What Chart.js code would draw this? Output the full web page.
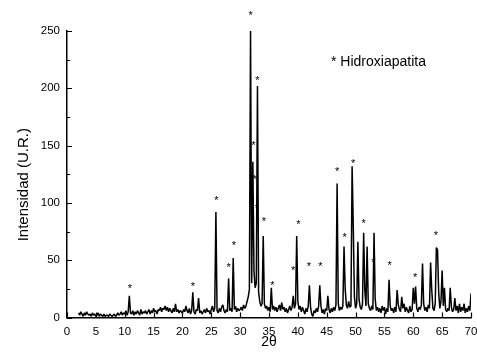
<!DOCTYPE html>
<html>
<head>
<meta charset="utf-8">
<script src="https://cdn.jsdelivr.net/npm/chart.js@4/dist/chart.umd.min.js"></script>
<style>
  html, body { margin: 0; padding: 0; background: #fff; }
  #wrap { width: 477px; height: 356px; }
</style>
</head>
<body>
<div id="wrap"><canvas id="c" width="477" height="356"></canvas></div>
<script>
// ---- data (2θ from 2.0 to 70.0 in steps of 0.2) ----
const startAngle = 2.0;
const angleStep = 0.2;
const intensity = [
  4,2,5,3,1,4,2,5,3,2,        // 2.0 - 3.8
  3,1,4,2,3,1,2,4,1,3,        // 4.0 - 5.8
  2,1,3,1,2,2,1,3,2,1,        // 6.0 - 7.8
  2,3,1,2,4,2,3,5,2,4,        // 8.0 - 9.8
  3,6,2,5,19,4,3,6,2,5,       // 10.0 - 11.8
  3,6,4,2,7,3,5,4,6,3,        // 12.0 - 13.8
  5,7,3,6,4,8,5,6,3,7,        // 14.0 - 15.8
  6,9,5,8,7,10,6,9,5,8,       // 16.0 - 17.8
  6,4,8,5,12,5,7,4,6,5,       // 18.0 - 19.8
  4,7,5,10,6,4,8,3,6,22,      // 20.0 - 21.8
  5,3,7,6,17,4,6,3,5,7,       // 22.0 - 23.8
  4,8,5,6,3,7,10,5,8,92,      // 24.0 - 25.8
  6,4,8,5,9,11,6,4,7,5,       // 26.0 - 27.8
  34,6,8,5,52,7,10,5,8,6,     // 28.0 - 29.8
  7,9,6,11,8,10,14,18,24,250, // 30.0 - 31.8
  30,136,40,26,30,202,22,14,10,12, // 32.0 - 33.8
  71,12,8,10,6,9,5,26,7,10,   // 34.0 - 35.8
  6,9,5,8,11,6,13,7,9,5,      // 36.0 - 37.8
  8,4,7,10,6,9,19,8,12,71,    // 38.0 - 39.8
  14,7,10,5,9,6,3,8,5,10,     // 40.0 - 41.8
  28,9,3,1,6,4,8,5,10,28,     // 42.0 - 43.8
  10,4,7,3,8,6,19,7,4,8,      // 44.0 - 45.8
  5,9,6,11,117,12,6,9,7,10,   // 46.0 - 47.8
  62,25,11,8,14,9,10,132,80,18, // 48.0 - 49.8
  8,12,66,16,9,7,12,74,24,10, // 50.0 - 51.8
  62,12,8,6,10,7,74,16,6,9,   // 52.0 - 53.8
  5,8,4,10,6,9,3,8,5,33,      // 54.0 - 55.8
  10,6,8,4,9,5,24,11,7,5,     // 56.0 - 57.8
  18,8,12,5,9,6,4,10,5,7,     // 58.0 - 59.8
  26,12,27,8,5,9,7,11,47,12,  // 60.0 - 61.8
  6,9,5,11,8,48,24,8,6,12,    // 62.0 - 63.8
  61,59,22,8,14,41,10,26,7,5, // 64.0 - 65.8
  8,6,26,9,5,7,17,6,10,4,     // 66.0 - 67.8
  12,5,9,6,12,4,8,5,10,6,     // 68.0 - 69.8
  21                          // 70.0
];

// asterisk annotations (2θ, intensity)
const starAngles  = [10.9, 21.8, 25.9, 28.0, 28.9, 31.8, 32.3, 32.5, 32.9, 33.0, 34.1, 35.6, 39.2, 40.1, 41.9, 43.9, 46.8, 48.1, 49.6, 51.4, 53.1, 55.9, 60.3, 63.9];
const starHeights = [27.5, 29,   104,  46,   65,   266,  152,  123,  97,   209,  85.7, 30,   43.5, 83,   46.6, 46.6, 129.6, 72,  136.6, 84.5, 50,  47.3, 37,   73.5];

const xTickStep = 5;
const yTickStep = 50;
const yMinorTicks = [25, 75, 125, 175, 225];
const legendText = '* Hidroxiapatita';

const points = intensity.map((v, i) => ({ x: startAngle + i * angleStep, y: v }));

const annot = {
  id: 'annot',
  afterDraw(chart) {
    const { ctx, scales: { x, y } } = chart;
    ctx.save();
    ctx.strokeStyle = '#000';
    ctx.lineWidth = 1.2;
    ctx.beginPath();
    y.ticks.forEach(t => {
      const py = Math.round(y.getPixelForValue(t.value)) + 0.5;
      ctx.moveTo(x.left, py); ctx.lineTo(x.left + 5, py);
    });
    yMinorTicks.forEach(v => {
      const py = Math.round(y.getPixelForValue(v)) + 0.5;
      ctx.moveTo(x.left, py); ctx.lineTo(x.left + 3, py);
    });
    x.ticks.forEach(t => {
      const px = Math.round(x.getPixelForValue(t.value)) + 0.5;
      ctx.moveTo(px, y.bottom); ctx.lineTo(px, y.bottom - 5);
    });
    ctx.stroke();

    ctx.fillStyle = '#000';
    ctx.font = '11px "Liberation Sans", Arial, sans-serif';
    ctx.textAlign = 'center';
    ctx.textBaseline = 'alphabetic';
    starAngles.forEach((a, i) => {
      const px = x.getPixelForValue(a);
      const py = y.getPixelForValue(starHeights[i]);
      ctx.fillText('*', px, py + 6);
    });

    ctx.font = '14px "Liberation Sans", Arial, sans-serif';
    ctx.textAlign = 'left';
    ctx.fillText(legendText, 331, 66);
    ctx.restore();
  }
};

new Chart(document.getElementById('c'), {
  type: 'line',
  data: {
    datasets: [{
      data: points,
      borderColor: '#000',
      borderWidth: 1.5,
      borderJoinStyle: 'bevel',
      pointRadius: 0,
      tension: 0,
      fill: false
    }]
  },
  options: {
    responsive: false,
    animation: false,
    events: [],
    layout: { padding: { left: 0, top: 31, right: 6, bottom: 0 } },
    plugins: { legend: { display: false }, tooltip: { enabled: false } },
    scales: {
      x: {
        type: 'linear',
        min: 0, max: 70,
        afterFit: s => { s.height = 38.5; s.paddingLeft = 0; s.paddingRight = 0; },
        ticks: { stepSize: xTickStep, padding: 7.5, color: '#000',
                 font: { family: '"Liberation Sans", Arial, sans-serif', size: 11.5 } },
        grid: { display: false, drawTicks: false },
        border: { display: true, color: '#000', width: 1.5 },
        title: { display: true, text: '2θ', color: '#000', padding: { top: 0, bottom: 5 },
                 font: { family: '"Liberation Sans", Arial, sans-serif', size: 14 } }
      },
      y: {
        min: 0, max: 250,
        afterFit: s => { s.width = 67; },
        ticks: { stepSize: yTickStep, padding: 7, color: '#000',
                 font: { family: '"Liberation Sans", Arial, sans-serif', size: 11.5 } },
        grid: { display: false, drawTicks: false },
        border: { display: true, color: '#000', width: 1.5 },
        title: { display: true, text: 'Intensidad (U.R.)\u00A0\u00A0\u00A0\u00A0\u00A0', color: '#000',
                 padding: { top: 14.5, bottom: 0 },
                 font: { family: '"Liberation Sans", Arial, sans-serif', size: 15 } }
      }
    }
  },
  plugins: [annot]
});
</script>
</body>
</html>
